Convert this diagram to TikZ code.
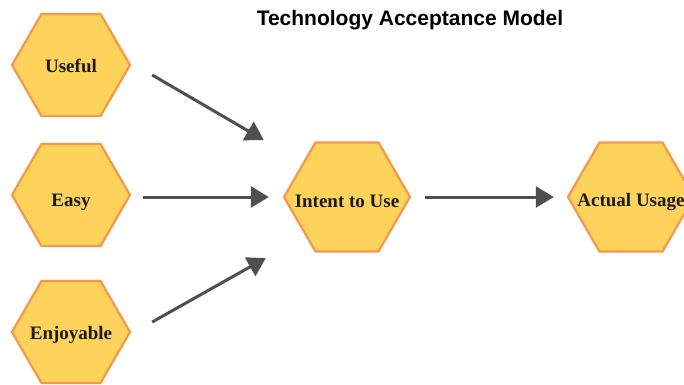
\documentclass[tikz,border=0pt]{standalone}
\usepackage{fontspec}
\setmainfont{Liberation Serif}
\setsansfont{Liberation Sans}
\usetikzlibrary{arrows.meta}
\definecolor{hexfill}{HTML}{FDD35B}
\definecolor{hexline}{HTML}{F7974A}
\definecolor{arrgray}{HTML}{4F4F4F}
\definecolor{labelink}{HTML}{1A1A10}
\tikzset{
  hexshape/.style={fill=hexfill, draw=hexline, line width=2.2pt, line join=miter},
  hexlabel/.style={circle, inner sep=0pt, text=labelink, font=\fontsize{19}{19}\selectfont\bfseries},
  arr/.style={draw=arrgray, line width=3pt, -{Triangle[length=18pt,width=21pt]}},
}
\newcommand{\hexagonat}[3]{%
  \draw[hexshape, shift={(#1,#2)}] (0:#3) -- (60:#3) -- (120:#3) -- (180:#3) -- (240:#3) -- (300:#3) -- cycle;}
\newcommand{\lowered}[2]{\raisebox{-#1pt}[0pt][0pt]{#2}}
\begin{document}
\begin{tikzpicture}[x=1pt,y=-1pt]
\useasboundingbox (0,0) rectangle (684,384);
\clip (0,0) rectangle (684,384);
\fill[white] (0,0) rectangle (684,384);
\node[font=\sffamily\bfseries\fontsize{21}{21}\selectfont] (t) at (410,20) {Technology Acceptance Model};
\hexagonat{71}{65}{59}
\hexagonat{71}{195}{59}
\hexagonat{71}{332}{59}
\hexagonat{347}{197}{63}
\hexagonat{631}{197}{63}
\node[hexlabel, minimum size=118pt] (u) at (71,65) {\lowered{7}{Useful}};
\node[hexlabel, minimum size=118pt] (e) at (71,195) {\lowered{11}{Easy}};
\node[hexlabel, minimum size=118pt] (j) at (71,332) {\lowered{7}{Enjoyable}};
\node[hexlabel, minimum size=126pt] (i) at (347,197) {\lowered{10}{Intent to Use}};
\node[hexlabel, minimum size=126pt] (a) at (631,197) {\lowered{9}{Actual Usage}};
\draw[arr] ([shift={(22,10)}]u.east) -- ([shift={(-20,-57)}]i.west);
\draw[arr] ([shift={(13,2)}]e.east) -- ([shift={(-15,0)}]i.west);
\draw[arr] ([shift={(22,-10)}]j.east) -- ([shift={(-18,61)}]i.west);
\draw[arr] ([shift={(15,0)}]i.east) -- ([shift={(-14,0)}]a.west);
\end{tikzpicture}
\end{document}
